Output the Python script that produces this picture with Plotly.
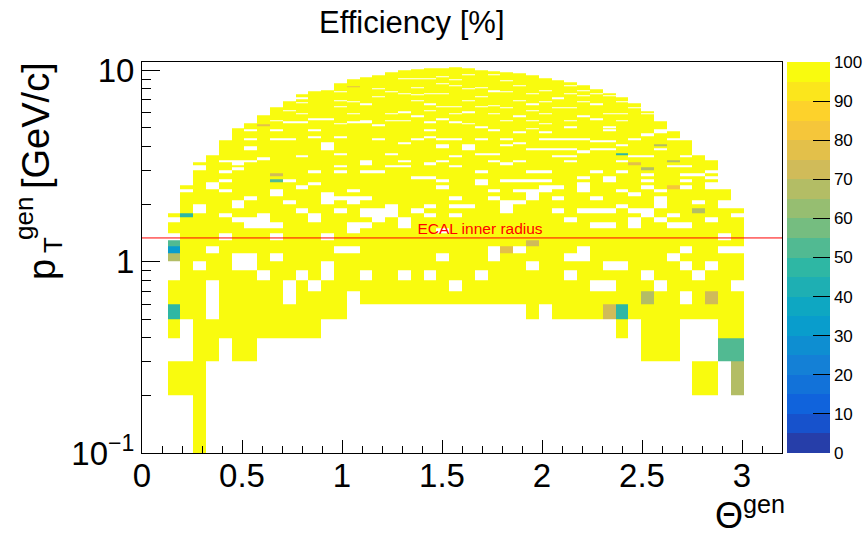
import numpy as np
import plotly.graph_objects as go

# ---------------- data ----------------
# theta^gen bins: 50 bins of 0.064 between 0 and 3.2
theta_edges = [round(0.064 * i, 3) for i in range(51)]
# pT^gen bins: 0.1 GeV/c wide, bin k covers [0.1k, 0.1(k+1)], k = 1..104
pt_edges = [round(0.1 * k, 1) for k in range(1, 106)]

# filled theta columns (bin index) with lowest / highest filled pT bin k
columns = list(range(2, 47))
bottom_bin = [2, 2, 1, 3, 4, 3, 3, 4, 4, 4, 4, 4, 5, 5,
              6, 6, 6, 6, 6, 6, 6, 6, 6, 6, 6, 6, 6, 6,
              5, 6, 5, 5, 5, 5, 5, 4, 5, 3, 3, 3, 5, 2, 2, 3, 2]
top_bin = [17, 24, 32, 35, 42, 49, 52, 57, 63, 68, 74, 77, 78, 85, 89,
           91, 93, 97, 99, 100, 101, 102, 103, 101, 99, 98, 97, 95, 93, 90,
           88, 86, 83, 79, 75, 71, 66, 60, 53, 47, 42, 35, 33, 23, 18]

# empty bins (k) inside each column
holes = {
    2: [3, 8, 9, 13, 16],
    3: [3, 4, 23],
    4: [9, 18, 19, 30, 31],
    5: [5, 6, 7, 11, 24, 25],
    6: [13, 17, 23, 26, 29, 33],
    7: [9, 10, 16, 19, 20, 30, 32, 33],
    8: [9, 10, 15, 16, 21, 33, 38, 39, 43, 48],
    9: [8, 15, 16, 17, 34],
    10: [10, 13, 15, 22, 23, 43, 48, 54],
    11: [6, 7, 20, 26, 43, 53, 61],
    12: [8, 18, 24, 35, 53, 59, 67, 71],
    13: [7, 16, 17, 25, 29, 44, 48, 55],
    14: [8, 9, 13, 20, 21, 22, 38, 39, 40, 41, 55],
    15: [11, 18, 21, 29, 31, 36, 44, 52, 64, 69, 77],
    16: [6, 11, 14, 15, 20, 21, 23, 53, 59, 68],
    17: [8, 15, 17, 18, 21, 29, 32, 33, 53, 54, 66],
    18: [16, 17, 18, 29, 43, 51, 72, 80],
    19: [17, 18, 19, 31, 36, 54, 59, 77],
    20: [8, 15, 16, 31, 33, 41, 54, 60, 75, 90],
    21: [18, 27, 43, 57, 69, 74, 81, 90],
    22: [8, 17, 19, 27, 32, 44, 48, 53, 61, 66, 75, 90],
    23: [10, 14, 24, 26, 33, 39, 40, 43, 55, 64, 75, 85, 92],
    24: [7, 17, 19, 21, 31, 35, 43, 53, 59, 64, 83, 89],
    25: [19, 38, 39, 40, 52, 60, 69, 80, 94],
    26: [8, 25, 26, 29, 36, 43, 50, 64, 72, 81],
    27: [10, 11, 21, 23, 33, 36, 48, 59, 65, 77, 78, 94],
    28: [18, 19, 20, 26, 32, 40, 43, 54, 63, 77, 88],
    29: [11, 20, 23, 26, 33, 41, 47, 57, 69, 83],
    30: [9, 21, 22, 23, 26, 29, 38, 49, 54, 61, 66, 75],
    31: [23, 24, 26, 29, 38, 43, 47, 52, 59, 68, 78],
    32: [18, 21, 24, 35, 38, 43, 63, 71],
    33: [8, 10, 16, 33, 35, 38, 43, 50, 54, 63, 75, 83],
    34: [10, 11, 18, 23, 24, 25, 27, 37, 43, 57, 68, 73, 78],
    35: [7, 15, 18, 21, 29, 38, 42, 55, 66, 75],
    36: [7, 9, 15, 18, 26, 27, 38, 42, 48, 50, 59, 73],
    37: [9, 19, 23, 29, 33, 40, 54, 59, 68],
    38: [15, 16, 18, 22, 35, 43, 63],
    39: [8, 17, 18, 24, 26, 28, 35, 45, 46, 59],
    40: [7, 16, 19, 20, 21, 23, 38, 47, 48],
    41: [10, 15, 17, 31, 43],
    42: [6, 9, 11, 15, 24, 26, 28, 31, 35],
    43: [3, 4, 8, 20, 28],
    44: [3, 4, 9, 16, 24, 25, 27, 29],
    45: [11, 13, 19, 20],
    46: [7, 11, 17],
}
full_eff = 100.0
# cells with efficiency below 100 %: (column, k, efficiency)
special_cells = [
    (2, 5, 47), (2, 10, 67), (2, 11, 32), (2, 12, 53), (3, 17, 47),
    (9, 51, 78), (10, 26, 52), (10, 28, 73), (16, 82, 78), (28, 11, 77),
    (30, 12, 73), (36, 5, 73), (37, 5, 48), (37, 36, 47), (38, 32, 78),
    (39, 6, 67), (39, 30, 67), (40, 40, 67), (41, 24, 83), (41, 33, 67),
    (43, 18, 67), (44, 6, 73), (45, 3, 53), (46, 3, 53), (46, 2, 67),
]
ecal_pt = 1.33
cbar_ticks = list(range(0, 101, 10))

# ---------------- build histogram ----------------
nx = len(theta_edges) - 1
ny = len(pt_edges) - 1
z = np.full((ny, nx), np.nan)
for c, lo, hi in zip(columns, bottom_bin, top_bin):
    for k in range(lo, hi + 1):
        z[k - 1, c] = full_eff
    for k in holes.get(c, []):
        z[k - 1, c] = np.nan
for c, k, v in special_cells:
    z[k - 1, c] = v
zlist = [[None if np.isnan(v) else float(v) for v in row] for row in z]

# ROOT kBird palette, 20 contour bands
st = [0.0, 0.125, 0.25, 0.375, 0.5, 0.625, 0.75, 0.875, 1.0]
rr = [0.2082, 0.0592, 0.0780, 0.0232, 0.1802, 0.5301, 0.8186, 0.9956, 0.9764]
gg = [0.1664, 0.3599, 0.5041, 0.6419, 0.7178, 0.7492, 0.7328, 0.7862, 0.9832]
bb = [0.5293, 0.8684, 0.8385, 0.7914, 0.6425, 0.4662, 0.3499, 0.1968, 0.0539]
nb = 20
cs = []
for i in range(nb):
    t = min((i + 0.99) / nb, 1.0)
    col = "rgb(%d,%d,%d)" % (round(255 * np.interp(t, st, rr)),
                             round(255 * np.interp(t, st, gg)),
                             round(255 * np.interp(t, st, bb)))
    cs.append([i / nb, col])
    cs.append([(i + 1) / nb, col])

FONT = "Liberation Sans, Arial, Helvetica, sans-serif"
L, R, T, B = 142, 86, 62, 84
W, H = 868, 537
pw, ph = W - L - R, H - T - B


def px_x(p):
    return (p - L) / pw


def px_y(p):
    return 1 - (p - T) / ph


fig = go.Figure()
fig.add_trace(go.Heatmap(
    x=theta_edges, y=pt_edges, z=zlist, zmin=0, zmax=100,
    colorscale=cs, hoverinfo="skip",
    colorbar=dict(
        x=px_x(787), xanchor="left", xpad=0,
        y=0.5, yanchor="middle", len=1, lenmode="fraction", ypad=0,
        thickness=43, thicknessmode="pixels", outlinewidth=0,
        tickvals=cbar_ticks, ticks="inside", ticklen=17, tickwidth=1,
        tickcolor="black", tickfont=dict(family=FONT, size=17, color="black"),
    ),
))
fig.add_trace(go.Scatter(
    x=[theta_edges[0], theta_edges[-1]], y=[ecal_pt, ecal_pt], mode="lines",
    line=dict(color="red", width=1), hoverinfo="skip", showlegend=False))
fig.add_trace(go.Scatter(
    x=[1.69], y=[ecal_pt], mode="text", text=["ECAL inner radius"],
    textposition="top center", textfont=dict(family=FONT, size=15.5, color="red"),
    hoverinfo="skip", showlegend=False))

xmajor = [0, 0.5, 1, 1.5, 2, 2.5, 3]
xminor = [round(0.1 * i, 1) for i in range(1, 33) if i % 5 != 0]
ymajor = [0.1, 1, 10]
yminor = [0.2, 0.3, 0.4, 0.5, 0.6, 0.7, 0.8, 0.9, 2, 3, 4, 5, 6, 7, 8, 9]

fig.update_xaxes(
    range=[0, 3.2], showgrid=False, zeroline=False, showline=True,
    linecolor="black", linewidth=1, mirror=True,
    tickvals=xmajor, ticktext=["0", "0.5", "1", "1.5", "2", "2.5", "3"],
    ticks="inside", ticklen=13, tickwidth=1, tickcolor="black",
    tickfont=dict(family=FONT, size=33, color="black"),
    ticklabelstandoff=-7,
    minor=dict(tickvals=xminor, ticks="inside", ticklen=7, tickwidth=1,
               tickcolor="black", showgrid=False),
)
fig.update_yaxes(
    type="log", range=[-1, np.log10(11.05)], showgrid=False, zeroline=False,
    showline=True, linecolor="black", linewidth=1, mirror=True,
    tickvals=ymajor, ticktext=["10<sup>\u22121</sup>", "1", "10"],
    ticks="inside", ticklen=18, tickwidth=1, tickcolor="black",
    tickfont=dict(family=FONT, size=33, color="black"),
    minor=dict(tickvals=yminor, ticks="inside", ticklen=9, tickwidth=1,
               tickcolor="black", showgrid=False),
)

annotations = [
    dict(text="Efficiency [%]", x=px_x(412), y=px_y(22),
         xref="paper", yref="paper", xanchor="center", yanchor="middle",
         showarrow=False, font=dict(family=FONT, size=31, color="black")),
    dict(text="\u0398<sup>gen</sup>", x=px_x(786), y=px_y(537),
         xref="paper", yref="paper", xanchor="right", yanchor="bottom",
         borderpad=0, yshift=0,
         showarrow=False, font=dict(family=FONT, size=36, color="black")),
    # y-axis title p_T^gen [GeV/c], rotated, built from pieces
    dict(text="[GeV/c]", x=px_x(36), y=px_y(126),
         xref="paper", yref="paper", xanchor="center", yanchor="middle",
         textangle=-90, showarrow=False,
         font=dict(family=FONT, size=38, color="black")),
    dict(text="gen", x=px_x(24), y=px_y(219),
         xref="paper", yref="paper", xanchor="center", yanchor="middle",
         textangle=-90, showarrow=False,
         font=dict(family=FONT, size=26, color="black")),
    dict(text="T", x=px_x(53), y=px_y(245),
         xref="paper", yref="paper", xanchor="center", yanchor="middle",
         textangle=-90, showarrow=False,
         font=dict(family=FONT, size=26, color="black")),
    dict(text="p", x=px_x(42), y=px_y(270),
         xref="paper", yref="paper", xanchor="center", yanchor="middle",
         textangle=-90, showarrow=False,
         font=dict(family=FONT, size=38, color="black")),
]

fig.update_layout(
    width=W, height=H, autosize=False,
    margin=dict(l=L, r=R, t=T, b=B, pad=0, autoexpand=False),
    paper_bgcolor="white", plot_bgcolor="white", showlegend=False,
    font=dict(family=FONT, color="black"),
    annotations=annotations,
)

fig.write_html("out.html")
